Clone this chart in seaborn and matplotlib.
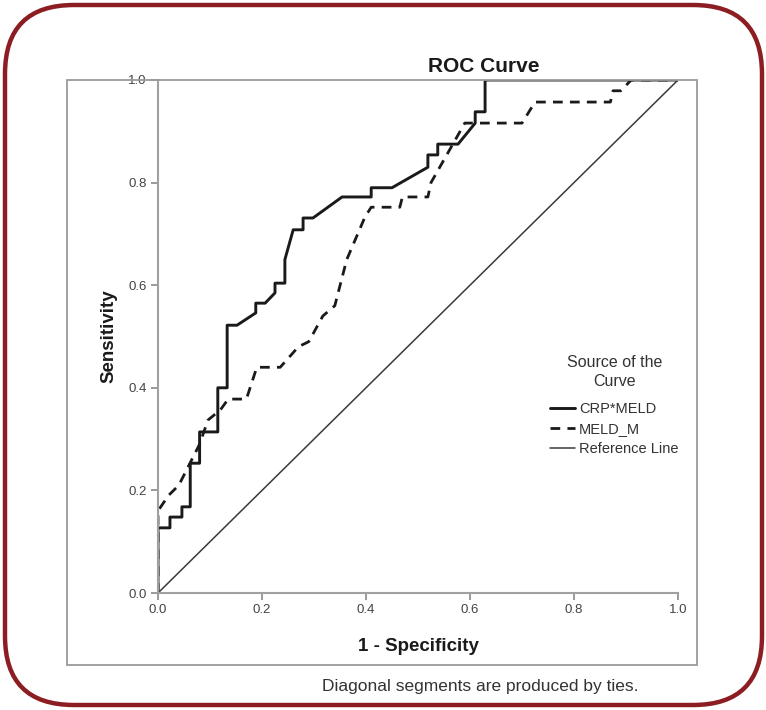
import numpy as np
import pandas as pd
import matplotlib
matplotlib.use("Agg")
import matplotlib.pyplot as plt
from matplotlib.patches import FancyBboxPatch, Rectangle
import seaborn as sns

# === Data ===
crp_fpr = [0.0, 0.0, 0.023, 0.023, 0.046, 0.046, 0.062, 0.062, 0.080, 0.080,
           0.115, 0.115, 0.133, 0.133, 0.152, 0.188, 0.188, 0.206, 0.225, 0.225,
           0.244, 0.244, 0.260, 0.279, 0.279, 0.298, 0.354, 0.410, 0.410, 0.450,
           0.519, 0.519, 0.538, 0.538, 0.577, 0.610, 0.610, 0.629, 0.629, 1.0]
crp_tpr = [0.0, 0.127, 0.127, 0.148, 0.148, 0.168, 0.168, 0.253, 0.253, 0.314,
           0.314, 0.400, 0.400, 0.522, 0.522, 0.546, 0.565, 0.565, 0.585, 0.604,
           0.604, 0.650, 0.708, 0.708, 0.731, 0.731, 0.772, 0.772, 0.790, 0.790,
           0.830, 0.854, 0.854, 0.875, 0.875, 0.916, 0.938, 0.938, 1.0, 1.0]

meld_fpr = [0.0, 0.0, 0.020, 0.040, 0.060, 0.080, 0.096, 0.120, 0.135, 0.170,
            0.190, 0.235, 0.270, 0.290, 0.317, 0.340, 0.363, 0.398, 0.410, 0.465,
            0.470, 0.519, 0.525, 0.590, 0.700, 0.725, 0.870, 0.875, 0.890, 0.910, 1.0]
meld_tpr = [0.0, 0.160, 0.190, 0.210, 0.250, 0.290, 0.337, 0.357, 0.378, 0.378,
            0.440, 0.440, 0.480, 0.490, 0.540, 0.560, 0.650, 0.733, 0.752, 0.752,
            0.772, 0.772, 0.800, 0.916, 0.916, 0.957, 0.957, 0.979, 0.979, 1.0, 1.0]

ref_x = [0.0, 1.0]
ref_y = [0.0, 1.0]

ticks = [0.0, 0.2, 0.4, 0.6, 0.8, 1.0]
tick_labels = ["0.0", "0.2", "0.4", "0.6", "0.8", "1.0"]

# === Style ===
sns.set_style("white")
plt.rcParams['font.family'] = ['Liberation Sans', 'DejaVu Sans']

W, H = 766, 710
fig = plt.figure(figsize=(W / 100, H / 100), dpi=100)

def px(x, y):
    # pixel (from top-left) -> figure fraction
    return x / W, 1 - y / H

# rounded outer border
border = FancyBboxPatch(px(5, 705), 757 / W, 700 / H,
                        boxstyle="round,pad=0,rounding_size=0.09",
                        transform=fig.transFigure, fill=False,
                        edgecolor="#8c1d22", linewidth=3.2, mutation_aspect=W / H)
fig.patches.append(border)

# grey chart frame
frame = Rectangle(px(67, 665), 630 / W, 585 / H, transform=fig.transFigure,
                  fill=False, edgecolor="#9a9a9a", linewidth=1.3)
fig.patches.append(frame)

l, b = px(158, 593)
ax = fig.add_axes([l, b, 520 / W, 513 / H])

sns.lineplot(x=crp_fpr, y=crp_tpr, sort=False, estimator=None, ax=ax,
             color="#1a1a1a", linewidth=2.1, label="CRP*MELD")
sns.lineplot(x=meld_fpr, y=meld_tpr, sort=False, estimator=None, ax=ax,
             color="#1a1a1a", linewidth=2.0, linestyle=(0, (3.5, 2.6)), label="MELD_M")
sns.lineplot(x=ref_x, y=ref_y, sort=False, estimator=None, ax=ax,
             color="#3a3a3a", linewidth=1.1, label="Reference Line")

ax.set_xlim(0, 1)
ax.set_ylim(0, 1)
ax.set_xticks(ticks)
ax.set_xticklabels(tick_labels)
ax.set_yticks(ticks)
ax.set_yticklabels(tick_labels)
ax.set_facecolor("none")

for s in ["top", "right"]:
    ax.spines[s].set_visible(False)
for s in ["left", "bottom"]:
    ax.spines[s].set_color("#a0a0a0")
    ax.spines[s].set_linewidth(1.5)
ax.tick_params(axis="both", direction="out", length=5, width=1.2, color="#888888",
               labelsize=9.5, labelcolor="#444444", pad=3, bottom=True, left=True)

ax.set_xlabel("1 - Specificity", fontsize=13.5, fontweight="bold", color="#1a1a1a", labelpad=16)
ax.set_ylabel("Sensitivity", fontsize=13.5, fontweight="bold", color="#1a1a1a", labelpad=8)

fig.text(*px(484, 66), "ROC Curve", fontsize=15, fontweight="bold",
         color="#1a1a1a", ha="center", va="center")

leg = ax.legend(title="Source of the\nCurve", loc="upper left",
                bbox_to_anchor=px(550, 355), bbox_transform=fig.transFigure,
                frameon=False, fontsize=10.5, title_fontsize=11.5,
                handlelength=1.7, handletextpad=0.3, labelspacing=0.42,
                borderpad=0, borderaxespad=0)
for t in leg.get_texts():
    t.set_color("#333333")
title = leg.get_title()
title.set_color("#333333")
title.set_multialignment("center")
title.set_linespacing(1.35)
leg._legend_box.sep = 9

fig.text(*px(322, 686), "Diagonal segments are produced by ties.", fontsize=12.5,
         color="#333333", ha="left", va="center")

fig.savefig("out.png", dpi=100)
